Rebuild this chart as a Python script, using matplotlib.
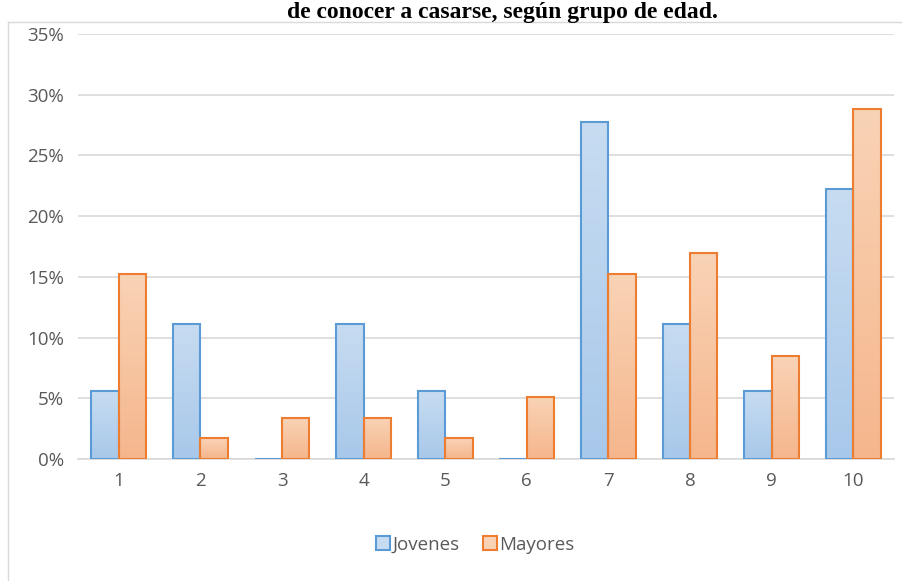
import numpy as np
import matplotlib.pyplot as plt
from matplotlib.lines import Line2D
from matplotlib.colors import LinearSegmentedColormap
from matplotlib.ticker import PercentFormatter

categorias = ['1', '2', '3', '4', '5', '6', '7', '8', '9', '10']
jovenes = [5.56, 11.11, 0.0, 11.11, 5.56, 0.0, 27.78, 11.11, 5.56, 22.22]
mayores = [15.25, 1.69, 3.39, 3.39, 1.69, 5.08, 15.25, 16.95, 8.47, 28.81]
series = ['Jovenes', 'Mayores']
titulo = 'de conocer a casarse, según grupo de edad.'

plt.rcParams['font.family'] = ['Open Sans', 'DejaVu Sans']

fig = plt.figure(figsize=(9.03, 5.81), dpi=100)
ax = fig.add_axes([78 / 903, 1 - 459 / 581, (894 - 78) / 903, (459 - 34) / 581])

x = np.arange(len(categorias))
w = 0.337

estilos = {
    'Jovenes': dict(edge='#5b9bd5', top='#c7dcf1', bottom='#a8c8ea'),
    'Mayores': dict(edge='#ed7d31', top='#f9d3b6', bottom='#f5b68c'),
}

def barras_degradado(pos, valores, est):
    barras = ax.bar(pos, valores, w, color='none', edgecolor=est['edge'],
                    linewidth=1.5, zorder=3)
    cmap = LinearSegmentedColormap.from_list('g', [est['bottom'], est['top']])
    grad = np.linspace(0, 1, 256).reshape(-1, 1)
    for b in barras:
        x0, y0 = b.get_x(), b.get_y()
        h = b.get_height()
        if h <= 0:
            continue
        im = ax.imshow(grad, extent=[x0, x0 + b.get_width(), y0, y0 + h],
                       origin='lower', cmap=cmap, aspect='auto', zorder=2)
        im.set_clip_path(b)
    return barras

barras_degradado(x - w / 2, jovenes, estilos['Jovenes'])
barras_degradado(x + w / 2, mayores, estilos['Mayores'])

ax.set_xlim(-0.5, len(categorias) - 0.5)
ax.set_ylim(0, 35)
ax.set_yticks(np.arange(0, 36, 5))
ax.yaxis.set_major_formatter(PercentFormatter(decimals=0))
ax.set_xticks(x)
ax.set_xticklabels(categorias)

ax.grid(axis='y', color='#d9d9d9', linewidth=1.2, zorder=0)
ax.set_axisbelow(True)
for s in ['top', 'right', 'left']:
    ax.spines[s].set_visible(False)
ax.spines['bottom'].set_color('#d9d9d9')
ax.spines['bottom'].set_linewidth(1.2)
ax.tick_params(axis='both', length=0, colors='#595959', labelsize=13.5)
ax.tick_params(axis='x', pad=9)
ax.tick_params(axis='y', pad=10)

# leyenda con cuadros rellenos
handles = [Line2D([], [], marker='s', linestyle='none', markersize=10.5,
                  markerfacecolor=estilos[s]['top'], markeredgecolor=estilos[s]['edge'],
                  markeredgewidth=1.5) for s in series]
fig.legend(handles, series, loc='center', bbox_to_anchor=(475 / 903, 1 - 545 / 581),
           ncol=2, frameon=False, fontsize=13.5, labelcolor='#595959',
           handletextpad=0.1, columnspacing=1.2, handlelength=0.8)

# marco del área del gráfico
fig.add_artist(Line2D([8 / 903, 8 / 903], [0, 1 - 22 / 581], color='#d9d9d9', linewidth=1))
fig.add_artist(Line2D([8 / 903, 1], [1 - 22 / 581, 1 - 22 / 581], color='#d9d9d9', linewidth=1))

fig.text(502 / 903, 1 - 18 / 581, titulo, ha='center', va='baseline',
         family=['Liberation Serif'], weight='bold', fontsize=17)

fig.savefig('out.png', dpi=100)
